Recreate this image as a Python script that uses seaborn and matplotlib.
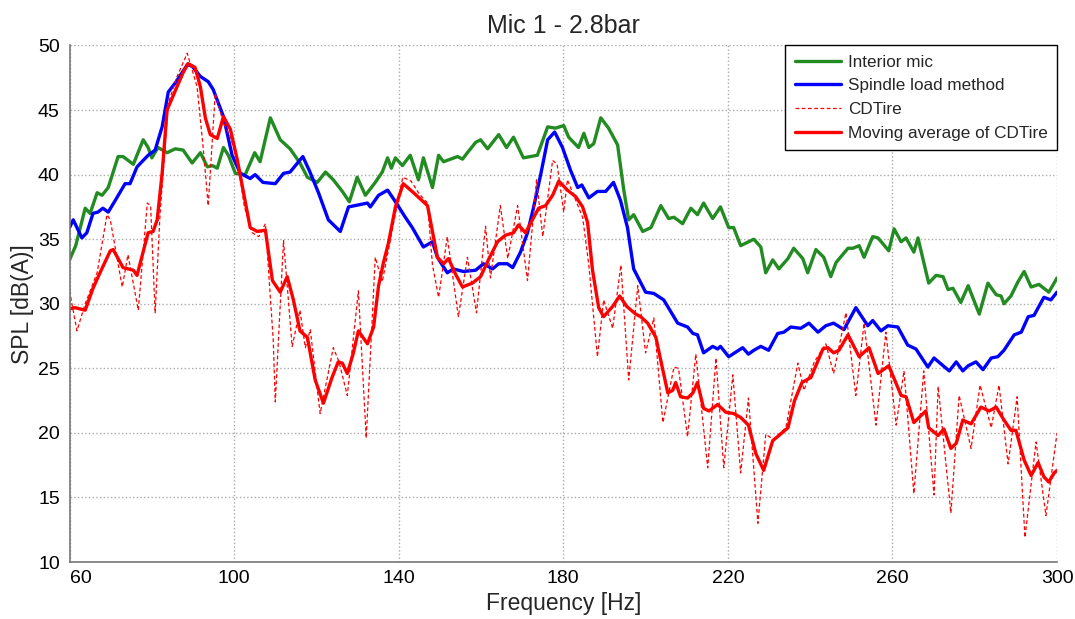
import numpy as np
import pandas as pd
import matplotlib
matplotlib.use("Agg")
import matplotlib.pyplot as plt
import seaborn as sns
from matplotlib.ticker import MultipleLocator, AutoMinorLocator

# ---------------- data ----------------
interior_f = [60, 61.5, 63.8, 65, 66.7, 67.9, 69.4, 71.8, 73, 75.5, 77.9, 79.1, 80, 81.5, 83.7, 85.7, 87.6, 89.8,
              91.8, 93.5, 94.7, 95.9, 97.4, 98.6, 100.3, 102.7, 105, 106.3, 108.8, 111.2, 113.6, 116, 117.8, 120.2,
              122.2, 124.1, 126.3, 128, 129.9, 131.9, 134.3, 136, 137.3, 138.2, 139.2, 140.9, 142.8, 144.8, 146,
              148.2, 149.7, 150.9, 154.3, 155.5, 156.7, 158.7, 159.9, 161.6, 164.3, 166.2, 167.9, 170.3, 173.7,
              176.2, 178.1, 180.1, 181.3, 183.7, 185, 186.2, 187.4, 189.1, 191, 193.2, 194.7, 195.9, 197.1, 199.3,
              201.3, 203.7, 205.6, 206.9, 209, 211, 212.6, 214.1, 216.3, 218.2, 220.2, 221.4, 223.1, 226.3, 228,
              229.2, 230.9, 232.4, 234.6, 236, 238.2, 239.4, 241.4, 243.3, 245, 246.3, 249.2, 250.4, 251.9, 253.1,
              255.2, 256.5, 259.1, 260.4, 262.1, 263.3, 265.2, 266.2, 268.8, 270.6, 272.3, 273.5, 274.7, 276.6,
              278.4, 281.1, 283.2, 285.2, 286.4, 287.1, 288.8, 290.5, 292, 293.7, 295.6, 298, 300]
interior_db = [33.4, 34.5, 37.4, 37.0, 38.6, 38.4, 39.0, 41.4, 41.4, 40.8, 42.7, 42.1, 41.3, 42.1, 41.7, 42.0, 41.9,
               40.9, 41.7, 40.6, 40.7, 40.5, 42.1, 41.5, 40.1, 40.0, 41.7, 41.0, 44.4, 42.7, 42.0, 40.9, 39.8, 39.4,
               40.2, 39.6, 38.7, 37.9, 39.8, 38.4, 39.4, 40.2, 41.3, 40.5, 41.3, 40.7, 41.5, 39.6, 41.3, 39.0, 41.5,
               41.0, 41.4, 41.2, 41.7, 42.5, 42.7, 42.0, 43.1, 42.1, 42.9, 41.3, 41.5, 43.7, 43.6, 43.8, 42.9, 42.1,
               43.2, 42.1, 42.4, 44.4, 43.6, 42.3, 38.8, 36.5, 36.9, 35.6, 35.9, 37.6, 36.6, 36.7, 36.2, 37.4, 36.9,
               37.8, 36.6, 37.5, 35.9, 35.9, 34.5, 35.0, 34.4, 32.4, 33.4, 32.7, 33.5, 34.3, 33.5, 32.4, 34.2, 33.6,
               32.1, 33.2, 34.3, 34.3, 34.5, 33.6, 35.2, 35.1, 34.1, 35.8, 34.8, 35.1, 34.0, 35.1, 31.6, 32.2, 32.1,
               31.1, 31.2, 30.1, 31.4, 29.2, 31.6, 30.7, 30.6, 30.0, 30.6, 31.7, 32.5, 31.3, 31.5, 30.9, 32.0]

spindle_f = [60, 60.9, 63, 64.2, 65.7, 66.9, 68.1, 69.4, 71.1, 73.5, 74.7, 76.4, 79.1, 80.8, 82.5, 84, 85.7, 88.6,
             89.8, 91.8, 93.7, 94.9, 97.4, 99.5, 101.5, 103.9, 105.1, 107, 110, 112, 113.6, 116.7, 118.3, 120.5,
             122.9, 125.8, 127.8, 132.4, 133.1, 135.1, 137.3, 139.2, 141.6, 143.3, 146, 148.2, 149.4, 151.8, 153.3,
             155.7, 158.7, 160.6, 162.8, 164.3, 166.4, 167.7, 169.6, 171.3, 172.8, 174.5, 176.2, 177.9, 179.8,
             181.8, 183.5, 184.5, 186.2, 188.3, 190.3, 192.2, 193.9, 195.6, 197.1, 200, 202, 204.4, 207.8, 210.2,
             211.5, 212.6, 214.1, 216.3, 217.5, 218.2, 220.2, 223.6, 225, 226.3, 228, 229.9, 232.1, 233.6, 235.3,
             237.7, 239.7, 241.9, 243.8, 245.7, 248.2, 251.1, 254, 255.2, 257.2, 258.9, 261.3, 263.7, 265.7, 268.6,
             270.1, 273.8, 275.5, 277.1, 278.4, 280.3, 282, 284, 285.6, 287.1, 289.6, 291.3, 293, 294.4, 296.8,
             298.5, 300]
spindle_db = [35.9, 36.5, 35.1, 35.5, 37.0, 37.1, 37.4, 37.1, 38.0, 39.3, 39.3, 40.6, 41.5, 41.9, 43.7, 46.4, 47.1,
              48.5, 48.4, 47.6, 47.2, 46.6, 44.5, 41.5, 40.1, 39.7, 40.0, 39.4, 39.3, 40.1, 40.2, 41.4, 40.3, 38.6,
              36.5, 35.6, 37.5, 37.8, 37.5, 38.4, 38.8, 37.9, 36.7, 35.9, 34.4, 34.8, 33.6, 32.4, 32.7, 32.5, 32.6,
              33.1, 32.7, 33.1, 33.1, 32.8, 34.0, 35.5, 37.5, 40.0, 42.7, 43.3, 42.1, 40.3, 39.0, 39.2, 38.2, 38.7,
              38.7, 39.4, 38.0, 35.9, 32.7, 30.9, 30.8, 30.3, 28.5, 28.2, 27.7, 27.6, 26.2, 26.7, 26.5, 26.7, 25.9,
              26.6, 26.1, 26.4, 26.7, 26.4, 27.7, 27.8, 28.2, 28.1, 28.5, 27.8, 28.3, 28.5, 28.0, 29.7, 28.3, 28.7,
              27.9, 28.3, 28.2, 26.8, 26.5, 25.1, 25.8, 24.8, 25.5, 24.8, 25.2, 25.5, 24.9, 25.8, 25.9, 26.4, 27.6,
              27.8, 29.0, 29.1, 30.5, 30.3, 30.9]

cdtire_f = [60, 61.8, 63.8, 66.7, 69.1, 69.9, 72.8, 74.2, 76.7, 78.9, 79.7, 80.8, 82, 84, 86, 88.6, 91, 92.5, 93.7,
            95.4, 97.4, 99, 100.8, 102.5, 104.4, 106, 107.6, 109.5, 110, 112, 114.1, 116, 117.3, 118.5, 120.9,
            124.1, 125.5, 127.5, 130.2, 132.1, 134.3, 136, 139.7, 141, 143, 145, 147, 148.2, 149.7, 151.8, 154.5,
            156.7, 158.9, 161.1, 162.3, 164.7, 166.5, 168.9, 171.3, 173.5, 175, 177.4, 178.5, 180.1, 181, 184.7,
            186.2, 188.3, 189.8, 192, 194, 195.9, 198.1, 200, 202, 204.2, 206.9, 208, 210.2, 212.2, 215.1, 217.1,
            219, 221.2, 223.1, 225, 227.3, 229.2, 231, 234.1, 237, 238.5, 241, 243.8, 245.7, 248.7, 251.1, 253.1,
            256, 258.4, 260.9, 262.8, 265.2, 267.6, 270.1, 271.1, 274.2, 276.2, 279.1, 281.3, 284, 285.9, 288.1,
            290.3, 292.2, 294.9, 297.3, 300]
cdtire_db = [31.0, 27.9, 30.0, 32.4, 36.9, 36.5, 31.3, 33.8, 29.5, 37.8, 37.6, 29.3, 37.0, 45.5, 47.5, 49.4, 46.8,
             42.0, 37.6, 46.3, 44.0, 43.0, 41.1, 37.5, 35.5, 35.2, 36.2, 27.2, 22.4, 34.9, 26.7, 29.5, 26.6, 28.0,
             21.5, 26.6, 25.5, 22.9, 31.0, 19.6, 33.6, 31.7, 37.8, 39.8, 39.5, 38.5, 37.8, 33.0, 30.5, 35.2, 29.0,
             33.6, 29.3, 36.0, 32.0, 37.6, 33.5, 37.6, 31.8, 39.6, 35.2, 41.1, 40.8, 37.1, 39.6, 36.7, 33.0, 25.9,
             30.3, 28.1, 33.0, 24.1, 31.4, 26.2, 28.9, 20.8, 25.1, 25.0, 19.7, 26.1, 17.3, 25.8, 17.3, 24.5, 16.9,
             22.7, 13.0, 19.9, 19.5, 20.4, 25.4, 23.3, 25.5, 26.9, 24.6, 29.3, 22.9, 28.5, 20.6, 27.8, 20.6, 24.8,
             15.3, 24.8, 15.2, 23.6, 13.8, 22.9, 18.8, 23.7, 20.4, 23.7, 17.6, 22.8, 11.9, 19.3, 13.6, 20.0]

movavg_f = [60, 61.3, 63.8, 65.7, 67.4, 69.9, 70.6, 73, 75.5, 76.4, 79.1, 80.3, 81.3, 82.5, 83.7, 85.7, 87.6, 88.8,
            90.5, 91.8, 93, 94.2, 95.9, 97.4, 99.1, 100.8, 102.3, 103.9, 105.6, 107.6, 109.3, 111.2, 112.9, 114.4,
            116, 117.8, 119.7, 121.7, 123.8, 125.3, 126.3, 127.5, 128.9, 130.2, 132.4, 133.9, 135.1, 136.3, 137.5,
            139.2, 141.1, 143.6, 147, 149.4, 150.9, 152.1, 153.8, 155.5, 157.9, 159.9, 161.8, 164, 165.9, 167.9,
            169.1, 170.8, 174, 175.7, 177.4, 178.9, 181, 183, 184.7, 185.9, 187.1, 188.6, 189.8, 192, 193.7, 195.4,
            197.6, 198.8, 200.5, 202.5, 203.7, 205.4, 206.6, 207.3, 208.5, 210.2, 211.5, 212.6, 214.1, 215.4,
            217.5, 219.5, 221.4, 223.1, 225, 226.8, 228.7, 230.9, 232.4, 234.6, 236.2, 238, 240.2, 243.1, 244.3,
            245.7, 247, 249.2, 251.9, 254.3, 256.5, 259.1, 262.1, 263.3, 265.2, 268.1, 268.8, 271.1, 272.5, 274.2,
            275.5, 277.1, 279.1, 281.5, 283.5, 285.2, 287.1, 288.8, 290, 292, 293.7, 295.4, 296.8, 298, 299.3, 300]
movavg_db = [29.6, 29.7, 29.5, 31.2, 32.4, 34.1, 34.2, 32.8, 32.6, 32.2, 35.5, 35.6, 36.5, 40.1, 45.0, 46.5, 47.9,
             48.6, 48.3, 46.8, 44.4, 43.1, 42.8, 44.5, 43.5, 41.1, 38.6, 35.9, 35.6, 35.7, 31.8, 30.9, 32.1, 30.3,
             27.9, 27.4, 24.1, 22.3, 24.3, 25.5, 25.4, 24.6, 26.1, 27.9, 26.9, 28.2, 31.4, 33.2, 34.7, 37.5, 39.3,
             38.6, 37.6, 33.6, 33.1, 33.5, 32.3, 31.3, 31.6, 32.1, 33.4, 34.8, 35.3, 35.5, 36.1, 35.5, 37.4, 37.6,
             38.4, 39.5, 38.8, 38.3, 37.5, 36.3, 32.6, 29.7, 29.0, 29.8, 30.6, 29.8, 29.2, 29.0, 28.5, 27.4, 25.6,
             23.1, 23.3, 23.9, 22.8, 22.7, 23.1, 23.9, 21.9, 21.7, 22.2, 21.6, 21.5, 21.2, 20.6, 18.4, 17.1, 19.4,
             19.8, 20.4, 22.5, 23.9, 24.3, 26.5, 26.6, 26.2, 26.4, 27.6, 25.9, 26.6, 24.6, 25.2, 22.9, 22.8, 20.8,
             21.7, 20.4, 19.8, 20.3, 18.8, 19.2, 21.0, 20.7, 22.0, 21.7, 22.0, 21.0, 20.2, 20.2, 17.9, 16.7, 17.7,
             16.6, 16.2, 16.9, 17.1]

x_ticks = [60, 100, 140, 180, 220, 260, 300]
y_ticks = [10, 15, 20, 25, 30, 35, 40, 45, 50]

labels = ["Interior mic", "Spindle load method", "CDTire", "Moving average of CDTire"]
colors = ["#228b22", "#0000ff", "#ff0000", "#ff0000"]

# ---------------- plot ----------------
sns.set_style("white")
plt.rcParams['font.family'] = ['Liberation Sans', 'DejaVu Sans']

fig = plt.figure(figsize=(10.75, 6.19), dpi=100)
ax = fig.add_axes([0.0647, 0.092, 0.9186, 0.8345])

df_i = pd.DataFrame({"f": interior_f, "db": interior_db})
df_s = pd.DataFrame({"f": spindle_f, "db": spindle_db})
df_c = pd.DataFrame({"f": cdtire_f, "db": cdtire_db})
df_m = pd.DataFrame({"f": movavg_f, "db": movavg_db})

sns.lineplot(data=df_i, x="f", y="db", ax=ax, color=colors[0], lw=2.4, label=labels[0], estimator=None)
sns.lineplot(data=df_s, x="f", y="db", ax=ax, color=colors[1], lw=2.4, label=labels[1], estimator=None)
sns.lineplot(data=df_c, x="f", y="db", ax=ax, color=colors[2], lw=0.9, label=labels[2], estimator=None,
             dashes=False)
ax.lines[-1].set_dashes([3, 2])
sns.lineplot(data=df_m, x="f", y="db", ax=ax, color=colors[3], lw=2.4, label=labels[3], estimator=None)

ax.set_xlim(60, 300)
ax.set_ylim(10, 50)
ax.set_xticks(x_ticks)
ax.set_yticks(y_ticks)
ax.yaxis.set_minor_locator(AutoMinorLocator(2))
ax.grid(True, which='major', linestyle=':', color='#aaaaaa', linewidth=1.0)
for s in ['top', 'right']:
    ax.spines[s].set_visible(False)
for s in ['left', 'bottom']:
    ax.spines[s].set_color('#777777')
    ax.spines[s].set_linewidth(1.2)
ax.tick_params(axis='both', direction='in', length=4, labelsize=14, colors='#777777', labelcolor='black')
ax.tick_params(axis='x', pad=6)
ax.tick_params(axis='y', pad=7)
ax.tick_params(axis='y', which='minor', direction='in', length=2, colors='#999999')
xt = ax.get_xticklabels()
xt[0].set_horizontalalignment('left')

ax.set_xlabel("Frequency [Hz]", fontsize=16.5, labelpad=3)
ax.set_ylabel("SPL [dB(A)]", fontsize=16.5, labelpad=3)
ax.set_title("Mic 1 - 2.8bar", fontsize=18, pad=9)

leg = ax.legend(loc='upper right', borderaxespad=0, fontsize=12.3, fancybox=False, framealpha=1,
                handlelength=2.7, borderpad=0.55, labelspacing=0.5, handletextpad=0.4)
leg.get_frame().set_edgecolor('black')
leg.get_frame().set_linewidth(1.0)

fig.savefig("out.png", dpi=100)
